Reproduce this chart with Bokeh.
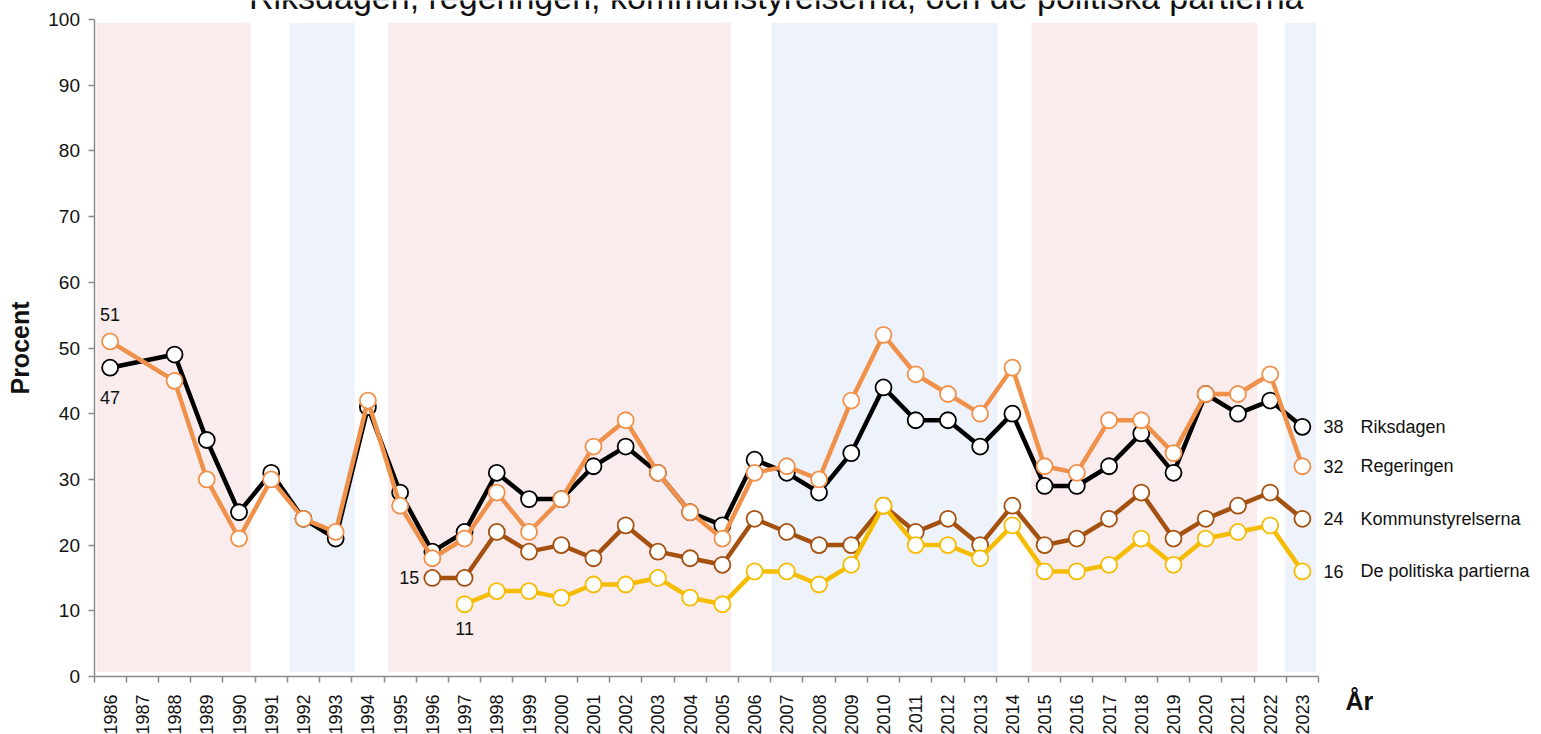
import math
from bokeh.plotting import figure
from bokeh.models import Range1d, FixedTicker, Label, ColumnDataSource
from bokeh.embed import file_html
from bokeh.resources import INLINE

# ---------------- data ----------------
years = [1986, 1987, 1988, 1989, 1990, 1991, 1992, 1993, 1994, 1995,
         1996, 1997, 1998, 1999, 2000, 2001, 2002, 2003, 2004, 2005,
         2006, 2007, 2008, 2009, 2010, 2011, 2012, 2013, 2014, 2015,
         2016, 2017, 2018, 2019, 2020, 2021, 2022, 2023]

riksdagen = [47, None, 49, 36, 25, 31, 24, 21, 41, 28,
             19, 22, 31, 27, 27, 32, 35, 31, 25, 23,
             33, 31, 28, 34, 44, 39, 39, 35, 40, 29,
             29, 32, 37, 31, 43, 40, 42, 38]

regeringen = [51, None, 45, 30, 21, 30, 24, 22, 42, 26,
              18, 21, 28, 22, 27, 35, 39, 31, 25, 21,
              31, 32, 30, 42, 52, 46, 43, 40, 47, 32,
              31, 39, 39, 34, 43, 43, 46, 32]

kommunstyrelserna = [None, None, None, None, None, None, None, None, None, None,
                     15, 15, 22, 19, 20, 18, 23, 19, 18, 17,
                     24, 22, 20, 20, 26, 22, 24, 20, 26, 20,
                     21, 24, 28, 21, 24, 26, 28, 24]

partierna = [None, None, None, None, None, None, None, None, None, None,
             None, 11, 13, 13, 12, 14, 14, 15, 12, 11,
             16, 16, 14, 17, 26, 20, 20, 18, 23, 16,
             16, 17, 21, 17, 21, 22, 23, 16]

series_names = ["Riksdagen", "Regeringen", "Kommunstyrelserna", "De politiska partierna"]

# government periods (shaded bands): S = social democratic, B = bourgeois
band_start = [1985.58, 1991.57, 1994.62, 2006.52, 2014.59, 2022.46]
band_end = [1990.36, 1993.59, 2005.27, 2013.54, 2021.60, 2023.42]
band_bloc = ["S", "B", "S", "B", "S", "B"]

y_ticks = [0, 10, 20, 30, 40, 50, 60, 70, 80, 90, 100]

title_text = "Riksdagen, regeringen, kommunstyrelserna, och de politiska partierna"

# ---------------- layout / styling ----------------
W, H = 1541, 734
AX_LEFT, AX_RIGHT, AX_TOP, AX_BOTTOM = 93.5, 1318.0, 19.0, 676.0   # pixel frame of the axes
x_lo, x_hi = years[0] - 0.5, years[-1] + 0.5
y_lo, y_hi = 0, 100
px_x = (AX_RIGHT - AX_LEFT) / (x_hi - x_lo)
px_y = (AX_BOTTOM - AX_TOP) / (y_hi - y_lo)
x_range = Range1d(x_lo - AX_LEFT / px_x, x_hi + (W - AX_RIGHT) / px_x)
y_range = Range1d(y_lo - (H - AX_BOTTOM) / px_y, y_hi + AX_TOP / px_y)

FONT = "Liberation Sans"
TXT = "#111111"
AXIS_GREY = "#8a8a8a"
colors = ["#000000", "#F0914B", "#A4500F", "#F6BC00"]
band_colors = {"S": "#FAECEC", "B": "#EEF3FB"}

p = figure(width=W, height=H, output_backend="svg", toolbar_location=None,
           x_range=x_range, y_range=y_range,
           min_border=0, min_border_left=0, min_border_right=0, min_border_top=0,
           min_border_bottom=0,
           background_fill_color="white", border_fill_color="white")
p.outline_line_color = None
p.grid.grid_line_color = None

# bands
bsrc = ColumnDataSource(dict(left=band_start, right=band_end,
                             top=[99.5] * len(band_start), bottom=[0.7] * len(band_start),
                             color=[band_colors[b] for b in band_bloc]))
p.quad(left="left", right="right", top="top", bottom="bottom", fill_color="color",
       line_color=None, source=bsrc)

# y axis
ya = p.yaxis[0]
ya.fixed_location = x_lo
ya.bounds = (y_lo, y_hi)
ya.ticker = FixedTicker(ticks=y_ticks, minor_ticks=[])
ya.axis_line_color = AXIS_GREY
ya.axis_line_width = 1.5
ya.major_tick_line_color = AXIS_GREY
ya.major_tick_line_width = 1.5
ya.major_tick_out = 6
ya.major_tick_in = 0
ya.minor_tick_line_color = None
ya.major_label_text_font = FONT
ya.major_label_text_font_size = "19px"
ya.major_label_text_color = TXT
ya.major_label_standoff = 8
ya.axis_label = "Procent"
ya.axis_label_text_font = FONT
ya.axis_label_text_font_style = "bold"
ya.axis_label_text_font_size = "25px"
ya.axis_label_text_color = TXT
ya.axis_label_standoff = 12

# x axis: ticks at category boundaries, year labels at centres
xa = p.xaxis[0]
xa.fixed_location = y_lo
xa.bounds = (x_lo, x_hi)
boundaries = [y - 0.5 for y in years] + [years[-1] + 0.5]
xa.ticker = FixedTicker(ticks=years, minor_ticks=boundaries)
xa.axis_line_color = AXIS_GREY
xa.axis_line_width = 1.5
xa.major_tick_line_color = None
xa.major_tick_out = 0
xa.major_tick_in = 0
xa.minor_tick_line_color = AXIS_GREY
xa.minor_tick_line_width = 1.5
xa.minor_tick_out = 6
xa.minor_tick_in = 0
xa.major_label_orientation = math.pi / 2
xa.major_label_standoff = 12
xa.major_label_text_font = FONT
xa.major_label_text_font_size = "18px"
xa.major_label_text_color = TXT
xa.major_label_overrides = {yr: str(yr) for yr in years}

p.add_layout(Label(x=x_hi, y=y_lo, x_offset=27, y_offset=-24, text="År",
                   text_font=FONT, text_font_style="bold", text_font_size="25px",
                   text_color=TXT, text_baseline="middle", text_align="left"))

# title (cut off at top as in reference)
p.add_layout(Label(x=(x_lo + x_hi) / 2, y=y_hi, x_offset=70, y_offset=23,
                   text=title_text, text_font=FONT, text_font_size="34px",
                   text_color=TXT, text_align="center", text_baseline="alphabetic"))

# series
all_series = [riksdagen, regeringen, kommunstyrelserna, partierna]
for vals, col in zip(all_series, colors):
    xs = [yr for yr, v in zip(years, vals) if v is not None]
    ys = [v for v in vals if v is not None]
    p.line(xs, ys, line_width=4.5, line_color=col, line_join="round")
    p.scatter(xs, ys, size=16, fill_color="white", line_color=col, line_width=1.8)

# end labels
for vals, name in zip(all_series, series_names):
    last = vals[-1]
    p.add_layout(Label(x=years[-1], y=last, x_offset=21, text=str(last), text_font=FONT,
                       text_font_size="18px", text_color=TXT, text_baseline="middle"))
    p.add_layout(Label(x=years[-1], y=last, x_offset=58, text=name, text_font=FONT,
                       text_font_size="18px", text_color=TXT, text_baseline="middle"))

# start value annotations
def first_valid(vals):
    for yr, v in zip(years, vals):
        if v is not None:
            return yr, v

yr, v = first_valid(regeringen)
p.add_layout(Label(x=yr, y=v, y_offset=27, text=str(v), text_font=FONT, text_font_size="18px",
                   text_color=TXT, text_align="center", text_baseline="middle"))
yr, v = first_valid(riksdagen)
p.add_layout(Label(x=yr, y=v, y_offset=-30, text=str(v), text_font=FONT, text_font_size="18px",
                   text_color=TXT, text_align="center", text_baseline="middle"))
yr, v = first_valid(kommunstyrelserna)
p.add_layout(Label(x=yr, y=v, x_offset=-13, text=str(v), text_font=FONT, text_font_size="18px",
                   text_color=TXT, text_align="right", text_baseline="middle"))
yr, v = first_valid(partierna)
p.add_layout(Label(x=yr, y=v, y_offset=-24, text=str(v), text_font=FONT, text_font_size="18px",
                   text_color=TXT, text_align="center", text_baseline="middle"))

open("out.html", "w").write(file_html(p, INLINE))
